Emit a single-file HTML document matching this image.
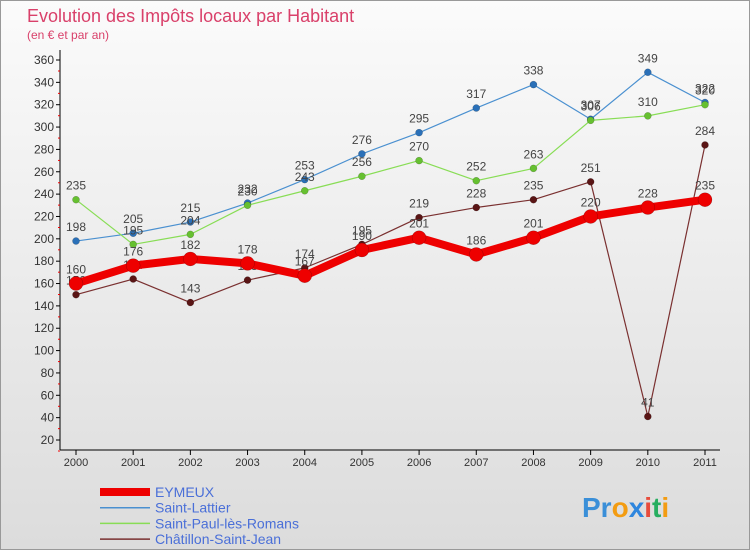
<!DOCTYPE html>
<html><head><meta charset="utf-8"><style>
body{margin:0;width:750px;height:550px;overflow:hidden;font-family:"Liberation Sans",sans-serif}
svg{display:block}
</style></head><body>
<svg id="c" width="750" height="550">
<defs><linearGradient id="bg" x1="0" y1="0" x2="0" y2="1"><stop offset="0" stop-color="#fbfbfb"/><stop offset="1" stop-color="#dcdcdc"/></linearGradient></defs>
<rect x="0.5" y="0.5" width="749" height="549" fill="url(#bg)" stroke="#999"/>
<text x="27" y="22" font-size="18" fill="#d9406a">Evolution des Impôts locaux par Habitant</text>
<text x="27" y="39" font-size="12" fill="#d9406a">(en € et par an)</text>
<g id="grid"></g><g id="axes"></g><g id="series"></g><g id="legend"></g>
<text x="582" y="517" font-size="28" font-weight="bold" fill="#3a8fd8">Pr<tspan fill="#f39c12">o</tspan><tspan fill="#2e86de">x</tspan><tspan fill="#e74c3c">i</tspan><tspan fill="#27ae60">t</tspan><tspan fill="#f39c12">i</tspan></text>
</svg>
<script>
const years=[2000,2001,2002,2003,2004,2005,2006,2007,2008,2009,2010,2011];
const yTicks=[20,40,60,80,100,120,140,160,180,200,220,240,260,280,300,320,340,360];
const eymeux=[160,176,182,178,167,190,201,186,201,220,228,235];
const saintLattier=[198,205,215,232,253,276,295,317,338,307,349,322];
const saintPaul=[235,195,204,230,243,256,270,252,263,306,310,320];
const chatillon=[150,164,143,163,174,195,219,228,235,251,41,284];
const names=["EYMEUX","Saint-Lattier","Saint-Paul-lès-Romans","Châtillon-Saint-Jean"];
const NS="http://www.w3.org/2000/svg";
const X=i=>76+i*(705-76)/11;
const Y=v=>60+(360-v)*(380/340);
function mk(t,a,p){const e=document.createElementNS(NS,t);for(const k in a)e.setAttribute(k,a[k]);p.appendChild(e);return e;}
const axes=document.getElementById('axes');
const grid=document.getElementById('grid');
mk('line',{x1:60,y1:50,x2:60,y2:450,stroke:'#000'},axes);
mk('line',{x1:60,y1:450,x2:720,y2:450,stroke:'#000'},axes);
yTicks.forEach(v=>{
 const t=mk('line',{x1:56,y1:Y(v),x2:60,y2:Y(v),stroke:'#000'},axes);
 
 mk('line',{x1:58,y1:Y(v)+11,x2:60,y2:Y(v)+11,stroke:'#e00'},axes);
 const l=mk('text',{x:54,y:Y(v)+4,'font-size':12,'text-anchor':'end',fill:'#333'},axes);
 l.textContent=v;
 
 
});
years.forEach((y,i)=>{
 mk('line',{x1:X(i),y1:450,x2:X(i),y2:455,stroke:'#000'},axes);
 const l=mk('text',{x:X(i),y:466,'font-size':11,'text-anchor':'middle',fill:'#333'},axes);
 l.textContent=y;
 
 
});
const S=document.getElementById('series');
const defs=[[saintLattier,'#4a90d0','#2a70b8',1.2,3.5,'saint-lattier'],[saintPaul,'#88dd55','#66c030',1.2,3.5,'saint-paul'],[chatillon,'#7a3030','#5a1515',1.2,3.5,'chatillon'],[eymeux,'#ee0000','#ee0000',8,7,'eymeux']];
defs.forEach(([d,c,dc,w,r,n])=>{
 const g=mk('g',{},S);
 
 
 const p=mk('polyline',{points:d.map((v,i)=>X(i)+','+Y(v)).join(' '),fill:'none',stroke:c,'stroke-width':w,'stroke-linejoin':'round'},g);
 
 d.forEach((v,i)=>{
  const m=mk('circle',{cx:X(i),cy:Y(v),r:r,fill:dc,stroke:'rgba(0,0,0,0.3)','stroke-width':0.5},g);
  
  
  const t=mk('text',{x:X(i),y:Y(v)-10,'font-size':12,'text-anchor':'middle',fill:'#444'},g);
  t.textContent=v;
  
  
 });
});
const L=document.getElementById('legend');
const lc=[['#ee0000',8],['#4a90d0',1.5],['#88dd55',1.5],['#7a3030',1.5]];
names.forEach((n,i)=>{
 const y=492+i*15.7;
 const g=mk('g',{},L);
 
 
 mk('line',{x1:100,y1:y,x2:150,y2:y,stroke:lc[i][0],'stroke-width':lc[i][1]},g);
 const t=mk('text',{x:155,y:y+5,'font-size':14,fill:'#4a6fd8'},g);
 t.textContent=n;
});
</script>
</body></html>
